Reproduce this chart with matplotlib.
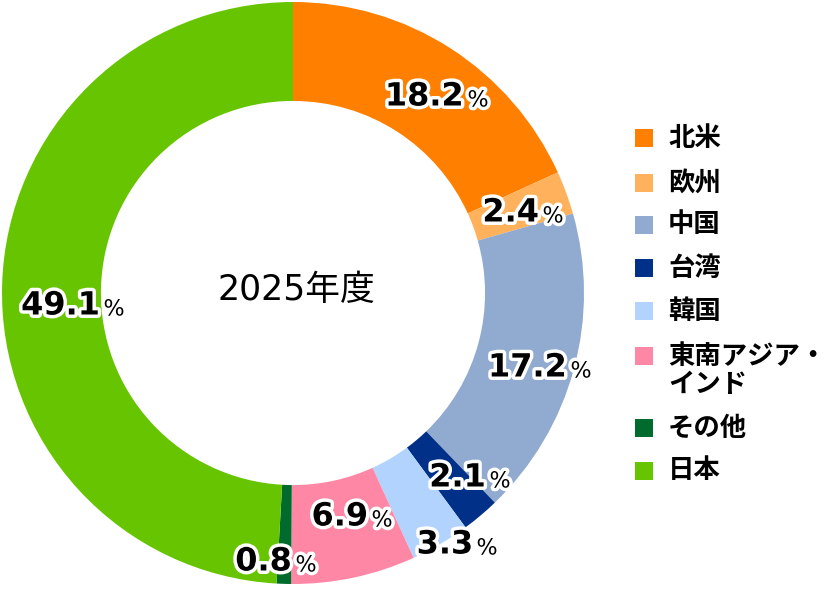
import matplotlib.pyplot as plt
import matplotlib.patheffects as pe
from matplotlib.patches import Rectangle

plt.rcParams['font.family'] = ['Noto Sans CJK JP', 'DejaVu Sans']

regions = ['北米', '欧州', '中国', '台湾', '韓国', '東南アジア・\nインド', 'その他', '日本']
shares = [18.2, 2.4, 17.2, 2.1, 3.3, 6.9, 0.8, 49.1]
colors = ['#FF8000', '#FFB15C', '#91AACF', '#003087', '#B3D3FF', '#FF87A6', '#006B2C', '#66C500']
# label anchor (split between number and %), in pixels of the 828x606 image
label_px = [(464, 97), (539, 213), (567, 368), (486, 478), (473, 545),
            (368, 517), (292, 562), (100, 306)]
title = '2025年度'

W, H = 828, 606
cx, cy, R = 293, 293, 291

fig = plt.figure(figsize=(W / 100, H / 100), dpi=100)
ax = fig.add_axes([(cx - R) / W, (H - cy - R) / H, 2 * R / W, 2 * R / H])
ax.pie(shares, colors=colors, startangle=90, counterclock=False, radius=1,
       wedgeprops=dict(width=0.34, linewidth=0))
ax.set_xlim(-1, 1)
ax.set_ylim(-1, 1)
ax.set_aspect('equal')
ax.axis('off')

stroke = [pe.withStroke(linewidth=5, foreground='white')]
for v, (px, py) in zip(shares, label_px):
    x = (px - cx) / R
    y = (cy - py) / R
    ax.text(x, y, f'{v:.1f}', ha='right', va='center', fontsize=23,
            fontweight='bold', family='DejaVu Sans', path_effects=stroke)
    ax.text(x + 0.012, y - 0.012, '%', ha='left', va='center', fontsize=16,
            family='DejaVu Sans', path_effects=stroke)

ax.text(0.01, 0.01, title, ha='center', va='center', fontsize=25,
        family=['DejaVu Sans', 'Noto Sans CJK JP'])

# legend
row_y = [138, 183, 225, 268, 311, 356, 428, 471]
for name, c, ry in zip(regions, colors, row_y):
    fig.patches.append(Rectangle((635 / W, 1 - (ry + 9) / H), 18 / W, 18 / H,
                                 transform=fig.transFigure, facecolor=c, edgecolor='none'))
    for k, line in enumerate(name.split('\n')):
        fig.text(668 / W, 1 - (ry + 28 * k) / H, line, ha='left', va='center',
                 fontsize=19, fontweight='bold')

fig.savefig('out.png', dpi=100)
